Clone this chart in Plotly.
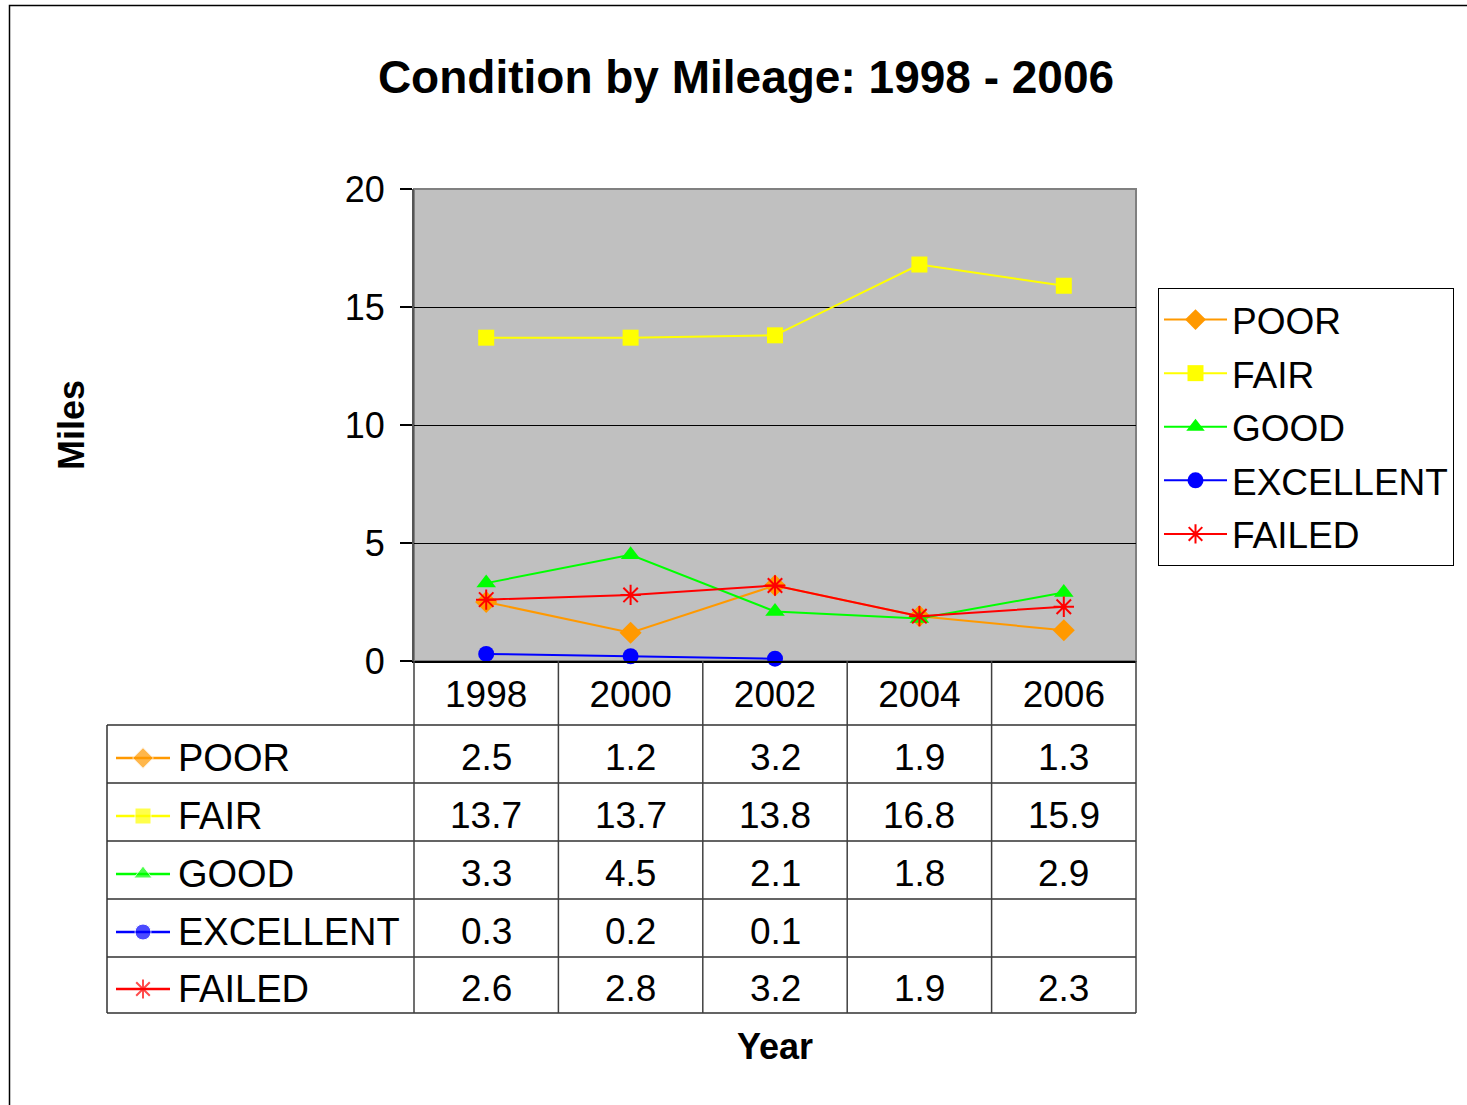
import plotly.graph_objects as go

W, H = 1467, 1105

years = ["1998", "2000", "2002", "2004", "2006"]
series_names = ["POOR", "FAIR", "GOOD", "EXCELLENT", "FAILED"]
poor = [2.5, 1.2, 3.2, 1.9, 1.3]
fair = [13.7, 13.7, 13.8, 16.8, 15.9]
good = [3.3, 4.5, 2.1, 1.8, 2.9]
excellent = [0.3, 0.2, 0.1, None, None]
failed = [2.6, 2.8, 3.2, 1.9, 2.3]

series_values = [poor, fair, good, excellent, failed]
colors = ["#FF9900", "#FFFF00", "#00FF00", "#0000FF", "#FF0000"]
symbols = ["diamond", "square", "triangle-up", "circle", "asterisk-open"]
sizes = [17, 16, 17, 16, 17]

FONT = "Liberation Sans, Arial, sans-serif"

def px(x):
    return x / W

def py(y):
    return 1 - y / H

# layout geometry (pixels)
PL, PR, PT, PB = 414, 1136, 189, 661
row_bounds = [725, 783, 841, 899, 957, 1013]
col_bounds = [414, 558.4, 702.8, 847.2, 991.6, 1136]
TABLE_LEFT = 107

fig = go.Figure()

for name, vals, c, s, sz in zip(series_names, series_values, colors, symbols, sizes):
    marker = dict(color=c, size=sz, symbol=s)
    if s == "asterisk-open":
        marker["line"] = dict(color=c, width=2)
    fig.add_trace(go.Scatter(
        x=years, y=vals, name=name, legendgroup=name, mode="lines+markers",
        line=dict(color=c, width=2), marker=marker,
        cliponaxis=False, connectgaps=False,
        xaxis="x", yaxis="y",
    ))

# legend keys inside the data table (decorative keys)
row_centers = [(row_bounds[i] + row_bounds[i + 1]) / 2 for i in range(5)]
for name, c, s, yc in zip(series_names, colors, symbols, row_centers):
    marker = dict(color=c, size=[0, 16, 0], symbol=s)
    if s == "asterisk-open":
        marker["line"] = dict(color=c, width=2)
    fig.add_trace(go.Scatter(
        x=[116, 143, 170], y=[yc + 4, yc + 4, yc + 4], mode="lines+markers",
        line=dict(color=c, width=2.5), marker=marker,
        showlegend=False, hoverinfo="skip", cliponaxis=False,
        xaxis="x2", yaxis="y2",
    ))

shapes = []
# gray plot background
shapes.append(dict(type="rect", xref="x domain", yref="y domain", x0=0, x1=1, y0=0, y1=1,
                   fillcolor="#C0C0C0", line=dict(width=0), layer="below"))
# plot border (top/right gray)
shapes.append(dict(type="rect", xref="paper", yref="paper", x0=px(PL), x1=px(PR), y0=py(PB), y1=py(PT),
                   line=dict(color="#808080", width=2), fillcolor="rgba(0,0,0,0)", layer="below"))
# outer chart border
shapes.append(dict(type="rect", xref="paper", yref="paper", x0=px(9.5), x1=1.05, y0=-0.05, y1=py(5.5),
                   line=dict(color="#000000", width=1.5), fillcolor="rgba(0,0,0,0)"))
# table horizontal lines
for yb in row_bounds:
    shapes.append(dict(type="line", xref="paper", yref="paper", x0=px(TABLE_LEFT), x1=px(PR),
                       y0=py(yb), y1=py(yb), line=dict(color="#303030", width=1.5)))
# table vertical lines
shapes.append(dict(type="line", xref="paper", yref="paper", x0=px(TABLE_LEFT), x1=px(TABLE_LEFT),
                   y0=py(row_bounds[0]), y1=py(row_bounds[-1]), line=dict(color="#303030", width=1.5)))
for xb in col_bounds:
    shapes.append(dict(type="line", xref="paper", yref="paper", x0=px(xb), x1=px(xb),
                       y0=py(PB), y1=py(row_bounds[-1]), line=dict(color="#404040", width=1.5)))

annotations = []
# table labels and values
for name, vals, yc in zip(series_names, series_values, row_centers):
    annotations.append(dict(text=name, xref="paper", yref="paper", x=px(176), y=py(yc + 4),
                            xanchor="left", yanchor="middle", showarrow=False,
                            font=dict(family=FONT, size=38, color="#000")))
    for i, v in enumerate(vals):
        if v is None:
            continue
        annotations.append(dict(text=f"{v:.1f}", xref="x", yref="paper", x=i, y=py(yc + 3),
                                xanchor="center", yanchor="middle", showarrow=False,
                                font=dict(family=FONT, size=37, color="#000")))
# axis titles
annotations.append(dict(text="<b>Miles</b>", xref="paper", yref="paper", x=px(72), y=py(425),
                        textangle=-90, showarrow=False, xanchor="center", yanchor="middle",
                        font=dict(family=FONT, size=36, color="#000")))
annotations.append(dict(text="<b>Year</b>", xref="paper", yref="paper", x=px(775), y=py(1046),
                        showarrow=False, xanchor="center", yanchor="middle",
                        font=dict(family=FONT, size=36, color="#000")))

fig.update_layout(
    width=W, height=H, autosize=False,
    margin=dict(l=0, r=0, t=0, b=0, pad=0, autoexpand=False),
    paper_bgcolor="#FFFFFF", plot_bgcolor="rgba(0,0,0,0)",
    font=dict(family=FONT, color="#000"),
    title=dict(text="<b>Condition by Mileage: 1998 - 2006</b>", x=px(746), y=py(77),
               xanchor="center", yanchor="middle", xref="paper", yref="paper",
               font=dict(family=FONT, size=46, color="#000")),
    xaxis=dict(domain=[px(PL), px(PR)], type="category", range=[-0.5, 4.5], automargin=False,
               showgrid=False, zeroline=False, showline=True, linecolor="#000", linewidth=2,
               ticks="", tickfont=dict(family=FONT, size=37, color="#000"), ticklabelstandoff=0,
               fixedrange=True),
    yaxis=dict(domain=[py(PB), py(PT)], range=[0, 20], dtick=5, tick0=0, automargin=False,
               showgrid=True, gridcolor="#000", gridwidth=1, zeroline=False,
               showline=True, linecolor="#555", linewidth=2,
               ticks="outside", ticklen=12, tickcolor="#000", tickwidth=1.5,
               tickfont=dict(family=FONT, size=36, color="#000"), ticklabelstandoff=8,
               fixedrange=True),
    xaxis2=dict(domain=[px(TABLE_LEFT), px(PL)], range=[TABLE_LEFT, PL], visible=False,
                fixedrange=True, automargin=False),
    yaxis2=dict(domain=[py(row_bounds[-1]), py(row_bounds[0])], range=[row_bounds[-1], row_bounds[0]],
                visible=False, fixedrange=True, automargin=False),
    legend=dict(x=px(1158), y=py(288), xanchor="left", yanchor="top",
                bordercolor="#000", borderwidth=1, bgcolor="#FFF",
                font=dict(family=FONT, size=37, color="#000"), tracegroupgap=2.5,
                itemwidth=63),
    shapes=shapes, annotations=annotations,
)

fig.write_html("out.html", config={"displayModeBar": False},
               post_script="document.body.style.margin='0px';")
